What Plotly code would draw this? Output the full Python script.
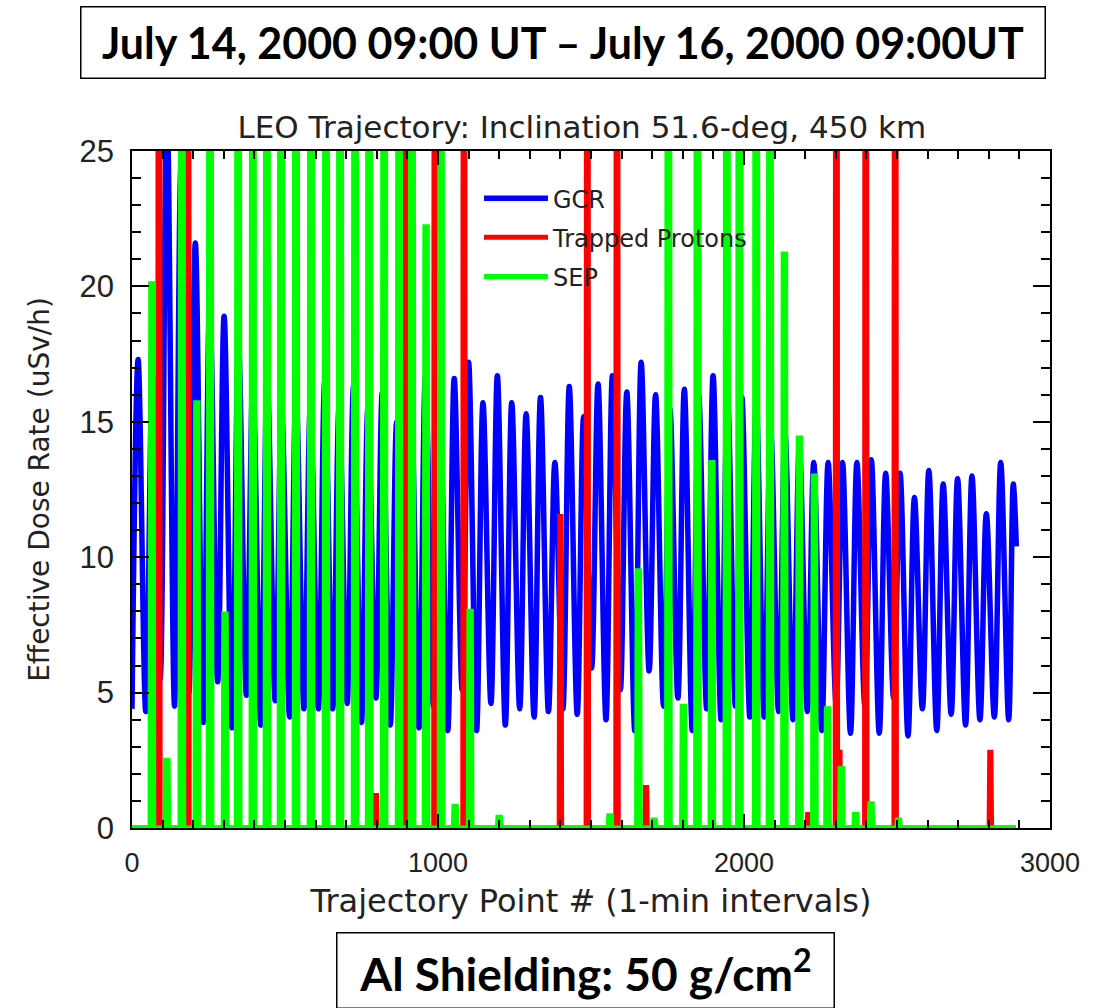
import plotly.graph_objects as go

# ---------------- data ----------------
# GCR: turning points of the orbital oscillation (maxima / minima)
gcr_max_x = [20, 67, 114, 160, 207, 254, 301, 348, 395, 442, 489, 536, 583, 630, 677, 724,
             771, 818, 865, 912, 959, 1006, 1053, 1100, 1147, 1194, 1241, 1288, 1335, 1382,
             1429, 1476, 1523, 1570, 1617, 1664, 1711, 1758, 1805, 1852, 1899, 1946, 1993,
             2040, 2087, 2134, 2181, 2228, 2275, 2322, 2369, 2416, 2463, 2510, 2557, 2604,
             2651, 2698, 2745, 2792, 2839, 2880]
gcr_max_y = [17.3, 16.7, 27.0, 24.4, 21.6, 19.5, 18.9, 17.9, 16.5, 16.6, 15.5, 16.2, 15.6, 16.5,
             15.6, 16.3, 15.5, 16.1, 15.0, 16.0, 16.7, 16.0, 16.6, 17.2, 15.7, 16.7, 15.7, 15.3,
             15.9, 13.5, 16.3, 15.2, 16.4, 16.7, 16.1, 17.2, 16.0, 15.5, 16.2, 16.0, 16.7, 16.0,
             15.9, 15.7, 14.8, 14.6, 14.1, 13.5, 13.5, 13.5, 13.5, 13.6, 13.1, 13.1, 12.2, 13.2,
             12.7, 12.9, 13.0, 11.6, 13.5, 12.7]
gcr_min_x = [0, 45, 92, 139, 186, 233, 280, 327, 374, 421, 468, 515, 562, 609, 656, 703, 750,
             797, 844, 891, 938, 985, 1032, 1079, 1126, 1173, 1220, 1267, 1314, 1361, 1408,
             1455, 1502, 1549, 1596, 1643, 1690, 1737, 1784, 1831, 1878, 1925, 1972, 2019,
             2066, 2113, 2160, 2207, 2254, 2301, 2348, 2395, 2442, 2489, 2536, 2583, 2630,
             2677, 2724, 2771, 2818, 2865, 2890]
gcr_min_y = [4.4, 4.3, 5.5, 4.5, 5.0, 3.9, 5.4, 3.7, 4.9, 3.8, 4.7, 4.1, 4.4, 4.4, 4.4, 4.6,
             3.9, 4.8, 3.8, 4.1, 3.7, 4.5, 3.6, 5.1, 3.6, 4.6, 3.8, 4.4, 4.1, 4.3, 4.4, 4.2,
             5.9, 4.0, 5.1, 3.6, 5.8, 4.5, 4.8, 3.6, 4.4, 4.0, 4.5, 4.1, 4.1, 4.3, 4.0, 4.3,
             3.6, 4.6, 3.5, 4.5, 3.5, 4.8, 3.4, 4.4, 3.6, 4.2, 3.8, 4.0, 4.1, 4.0, 10.4]

# Trapped protons: SAA passes (centre minute, peak dose rate)
trap_x = [88, 183, 797, 894, 990, 1085, 1400, 1488, 1585, 1680, 2210, 2302, 2312, 2398, 2494, 2805]
trap_y = [60, 60, 1.2, 60, 60, 60, 11.5, 60, 60, 1.5, 0.5, 60, 2.8, 60, 60, 2.8]

# SEP: high-latitude passes (centre minute, peak dose rate)
sep_x = [65, 114, 163, 212, 255, 304, 347, 395, 441, 487, 536, 585, 634, 680, 729, 775, 824,
         873, 915, 961, 1010, 1056, 1105, 1200, 1562, 1655, 1706, 1753, 1802, 1848, 1895,
         1944, 1985, 2040, 2085, 2132, 2181, 2230, 2273, 2318, 2365, 2415, 2505]
sep_y = [20.1, 2.5, 40, 15.7, 40, 7.9, 40, 40, 40, 40, 40, 40, 40, 40, 40, 40, 40,
         40, 40, 22.2, 30, 0.8, 8.0, 0.4, 0.45, 9.5, 0.3, 40, 4.5, 40, 13.5,
         40, 40, 40, 40, 21.2, 14.4, 13.0, 4.4, 2.2, 0.5, 0.9, 0.3]

series_end = 2888

x_ticks = [0, 1000, 2000, 3000]
y_ticks = [0, 5, 10, 15, 20, 25]

# ---------------- build traces ----------------
gcr_pts = sorted(zip(gcr_max_x + gcr_min_x, gcr_max_y + gcr_min_y))
gcr_xs = [p[0] for p in gcr_pts]
gcr_ys = [p[1] for p in gcr_pts]


def spike_series(cx, cy, half, end):
    xs, ys = [0], [0]
    for c, v in sorted(zip(cx, cy)):
        xs += [c - half, c - half + 2, c + half - 2, c + half]
        ys += [0, v, v, 0]
    xs.append(end)
    ys.append(0)
    return xs, ys


tx, ty = spike_series(trap_x, trap_y, 4, series_end)
sx, sy = spike_series(sep_x, sep_y, 6, series_end)

BLUE, RED, GREEN = "#0000FF", "#FF0000", "#00FF00"
FONT = "DejaVu Sans"
TXT = "#222222"

fig = go.Figure()
fig.add_trace(go.Scatter(x=gcr_xs, y=gcr_ys, mode="lines", name="GCR", legendgroup="g1",
                         line=dict(color=BLUE, width=5.5, shape="spline", smoothing=1.0)))
fig.add_trace(go.Scatter(x=tx, y=ty, mode="lines", name="Trapped Protons", legendgroup="g2",
                         line=dict(color=RED, width=5)))
fig.add_trace(go.Scatter(x=sx, y=sy, mode="lines", name="SEP", legendgroup="g3",
                         line=dict(color=GREEN, width=5)))

axis_common = dict(showline=True, linecolor="black", linewidth=1.5, mirror="ticks",
                   ticks="inside", tickcolor="black", tickwidth=1.5, showgrid=False,
                   zeroline=False, automargin=False)

fig.update_layout(
    width=1117, height=1008,
    margin=dict(l=132, r=67, t=151, b=180),
    paper_bgcolor="white", plot_bgcolor="white",
    title=dict(text="LEO Trajectory: Inclination 51.6-deg, 450 km",
               font=dict(family=FONT, size=31, color=TXT),
               x=0.49, xref="paper", xanchor="center",
               y=1 - 127 / 1008, yref="container", yanchor="middle"),
    xaxis=dict(range=[0, 3000], tickvals=x_ticks, ticklen=14,
               tickfont=dict(family="Liberation Sans", size=27, color=TXT),
               minor=dict(ticks="inside", dtick=100, ticklen=8, tickcolor="black", tickwidth=1.5),
               title=dict(text="Trajectory Point # (1-min intervals)",
                          font=dict(family=FONT, size=32, color=TXT), standoff=12),
               ticklabelstandoff=10, **axis_common),
    yaxis=dict(range=[0, 25], tickvals=y_ticks, ticklen=17,
               tickfont=dict(family="Liberation Sans", size=31, color=TXT),
               minor=dict(ticks="inside", dtick=1, ticklen=9, tickcolor="black", tickwidth=1.5),
               title=dict(text="Effective Dose Rate (uSv/h)",
                          font=dict(family=FONT, size=28, color=TXT), standoff=22),
               ticklabelstandoff=10, **axis_common),
    legend=dict(x=0.378, y=0.963, xanchor="left", yanchor="top", traceorder="grouped",
                bgcolor="rgba(0,0,0,0)", font=dict(family=FONT, size=24, color=TXT),
                itemwidth=64, tracegroupgap=5),
    annotations=[
        dict(text="<b>July 14, 2000 09:00 UT \u2013 July 16, 2000 09:00UT</b>",
             xref="paper", yref="paper", x=(562.5 - 132) / 918, y=(828 - 42.5) / 677,
             xanchor="center", yanchor="middle", showarrow=False,
             width=963, height=70, bordercolor="black", borderwidth=1.5, borderpad=0,
             font=dict(family="Lato", size=43, color="black")),
        dict(text="<b>Al Shielding: 50 g/cm<sup>2</sup></b>",
             xref="paper", yref="paper", x=(585 - 132) / 918, y=(828 - 970) / 677,
             xanchor="center", yanchor="middle", showarrow=False,
             width=496, height=74, bordercolor="black", borderwidth=1.5, borderpad=0,
             font=dict(family="Lato", size=46, color="black")),
    ],
)

fig.write_html("out.html", config={"displayModeBar": False},
               post_script="document.body.style.margin='0px';")
